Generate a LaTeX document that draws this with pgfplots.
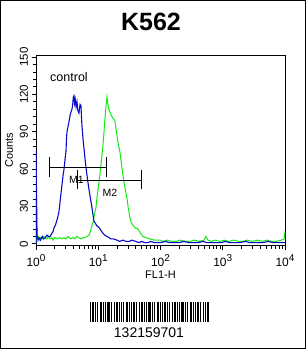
\documentclass[border=0pt]{standalone}
\usepackage{fontspec}
\setmainfont{Liberation Sans}
\usepackage{pgfplots}
\pgfplotsset{compat=1.18}
\definecolor{cblue}{RGB}{10,10,200}
\definecolor{cgreen}{RGB}{20,235,20}
\newcommand{\tenpow}[1]{10\raisebox{0.45em}{\fontsize{10}{10}\selectfont #1}}
\begin{document}
\begin{tikzpicture}
\useasboundingbox (0pt,0pt) rectangle (306pt,349pt);
\fill[white] (0pt,0pt) rectangle (306pt,349pt);
\draw[line width=1pt] (0.5pt,0.5pt) rectangle (305.5pt,348.5pt);
\node[font=\fontsize{25}{28}\selectfont\bfseries] at (151pt,327pt) {K562};
\begin{axis}[at={(36pt,103.5pt)}, anchor=south west, scale only axis,
  width=249pt, height=190pt,
  xmode=log, xmin=1, xmax=10000, ymin=-1.3, ymax=151.2,
  tick pos=left, tick align=outside,
  major tick length=4.5pt, minor tick length=3pt,
  xtick={1,10,100,1000,10000},
  xticklabels={\tenpow{0},\tenpow{1},\tenpow{2},\tenpow{3},\tenpow{4}},
  minor xtick={2,3,4,5,6,7,8,9,20,30,40,50,60,70,80,90,200,300,400,500,600,700,800,900,2000,3000,4000,5000,6000,7000,8000,9000},
  ytick={0,30,60,90,120,150}, minor y tick num=4,
  ticklabel style={font=\fontsize{12}{14}\selectfont},
  yticklabel style={rotate=90, anchor=south, font=\fontsize{11.5}{13}\selectfont},
  xticklabel style={yshift=-1pt},
  /pgf/number format/assume math mode=true,
  xlabel={FL1-H}, ylabel={Counts},
  label style={font=\fontsize{11}{13}\selectfont},
  xlabel style={yshift=3pt},
  ylabel style={yshift=0pt},
  axis line style={line width=0.9pt},
  every tick/.style={line width=0.8pt, black},
  clip=true]
\addplot[cgreen, line width=1pt] coordinates {(1,0) (1,37) (1.04,4) (1.08,6) (1.12,3) (1.18,5) (1.26,4) (1.33,6) (1.41,5) (1.5,4) (1.58,6) (1.68,4) (1.78,5) (1.88,3) (2,5) (2.2,4) (2.4,5) (2.6,4) (2.8,5) (3,4) (3.3,6) (3.6,4) (3.9,5) (4.2,4) (4.5,6) (4.9,5) (5.3,4) (5.7,5) (6.1,5) (6.6,6) (7.08,7) (7.5,10) (7.92,15) (8.22,17) (8.7,24) (9.19,29) (9.53,37) (10,45) (10.6,55) (11.2,66) (11.9,79) (12.3,88) (12.8,100) (13.3,110) (13.8,118) (14.3,112) (14.8,108) (15.4,106) (16.2,103) (17.2,101) (18.5,99) (19.2,93) (20,87) (21,80) (22.3,74) (23.6,64) (24.9,55) (26.8,45) (28.9,37) (30.5,28) (32.3,21) (34,17) (36.1,15) (39,13) (43.4,12) (47,9) (52.2,6) (58,5) (67.6,4) (80,3) (97.7,3) (110,2) (130,3) (150,2) (180,2) (210,3) (250,2) (300,2) (350,3) (420,2) (500,3) (537,6) (580,3) (650,2) (750,3) (900,2) (1050,3) (1250,2) (1500,3) (1800,2) (2100,2) (2500,3) (3000,2) (3600,3) (4300,2) (5100,3) (6100,2) (7300,2) (8700,3) (9700,4) (10000,10)};
\addplot[cblue, line width=1.1pt] coordinates {(1,0) (1,75) (1.04,6) (1.08,3) (1.12,5) (1.18,3) (1.26,6) (1.33,4) (1.41,5) (1.5,7) (1.58,6) (1.68,6) (1.78,8) (1.88,10) (1.95,13) (2.05,15) (2.14,18) (2.25,22) (2.34,26) (2.45,35) (2.61,47) (2.72,55) (2.82,60) (2.93,68) (3.03,74) (3.1,86) (3.15,90) (3.27,94) (3.39,98) (3.52,103) (3.65,106) (3.78,108) (3.89,112) (3.98,118) (4.07,119) (4.17,113) (4.27,116) (4.4,110) (4.55,114) (4.7,107) (4.9,105) (5.1,112) (5.27,111) (5.47,95) (5.7,84) (5.89,77) (6.2,66) (6.59,55) (7.08,44) (7.64,34) (8.1,26) (8.53,18) (8.9,17) (9.33,15) (9.8,14) (10.3,13) (11,11) (11.7,9) (12.7,7) (13.8,6) (15,5) (15.8,4) (17.5,4) (20,3) (22,2) (25,3) (28,2) (31.6,2) (35,3) (39.8,2) (45,1) (50,2) (56,1) (63,1) (70,2) (80,1) (90,1) (100,1) (120,2) (140,1) (170,1) (200,1) (240,2) (280,1) (330,1) (400,1) (480,2) (560,1) (650,1) (800,1) (950,1) (1100,2) (1300,1) (1600,1) (1900,1) (2300,2) (2700,1) (3200,1) (3800,1) (4500,1) (5400,2) (6400,1) (7600,1) (9000,1) (10000,1)};
% markers
\addplot[black, line width=0.8pt] coordinates {(1.62,61.5) (13.3,61.5)};
\addplot[black, line width=0.8pt] coordinates {(1.62,53.6) (1.62,69.6)};
\addplot[black, line width=0.8pt] coordinates {(13.3,53.6) (13.3,69.6)};
\addplot[black, line width=0.8pt] coordinates {(4.55,51) (50,51)};
\addplot[black, line width=0.8pt] coordinates {(4.55,44) (4.55,59)};
\addplot[black, line width=0.8pt] coordinates {(50,44) (50,59)};
\node[font=\fontsize{10.5}{12}\selectfont] at (axis cs:4.47,51) {M1};
\node[font=\fontsize{10.5}{12}\selectfont] at (axis cs:15.4,41) {M2};
\node[font=\fontsize{12.5}{14}\selectfont] at (axis cs:3.39,133.6) {control};
\end{axis}
% barcode
\begin{scope}[x=1pt,y=1pt]
\foreach \w/\g [evaluate=\w as \nx using \cx+\w+\g, remember=\nx as \cx (initially 89.5)] in {1/1,2/1,1/1,1/2,2/1,1/1,1/1,3/1,1/2,1/1,2/1,1/1,1/1,1/2,2/1,1/1,1/1,2/1,1/2,1/1,2/1,1/1,1/1,3/1,1/1,1/2,2/1,1/1,1/1,2/1,1/1,1/2,1/1,2/1,1/1,1/1,3/1,1/1,1/2,2/1,1/1,1/1,2/1,1/2,1/1,1/1,2/0}
  {\fill[black] (\cx,27) rectangle ++(\w,20);}
\end{scope}
\node[font=\fontsize{14}{16}\selectfont] at (149pt,16pt) {132159701};
\end{tikzpicture}
\end{document}
